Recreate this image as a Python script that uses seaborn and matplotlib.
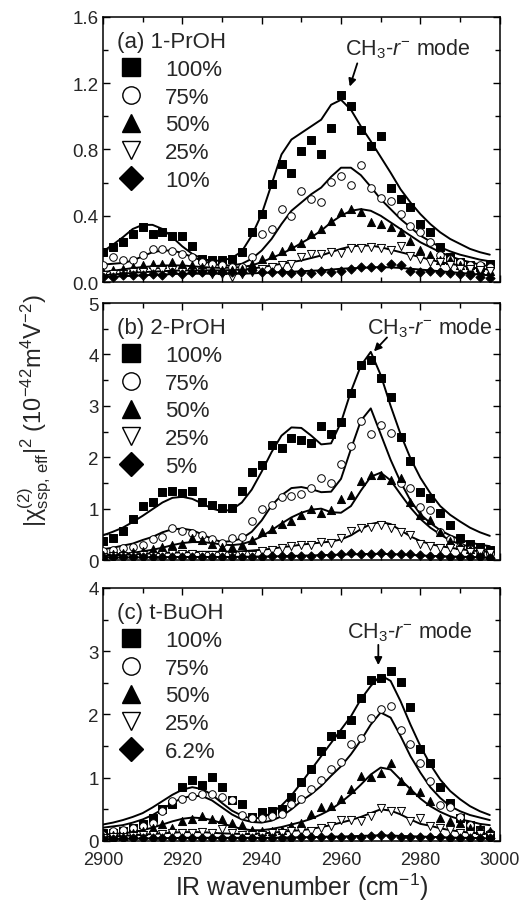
import numpy as np
import pandas as pd
import matplotlib
matplotlib.use('Agg')
import matplotlib.pyplot as plt
from matplotlib.lines import Line2D
from matplotlib.ticker import MultipleLocator, FormatStrFormatter
import seaborn as sns

sns.set_style("ticks")
plt.rcParams['font.family'] = ['Liberation Sans', 'DejaVu Sans']
plt.rcParams['mathtext.fontset'] = 'custom'
plt.rcParams['mathtext.rm'] = 'Liberation Sans'
plt.rcParams['mathtext.it'] = 'Liberation Sans:italic'
plt.rcParams['mathtext.bf'] = 'Liberation Sans:bold'
plt.rcParams['xtick.direction'] = 'in'
plt.rcParams['ytick.direction'] = 'in'
plt.rcParams['xtick.top'] = True
plt.rcParams['ytick.right'] = True

# ====================== DATA ======================
wn = [2900.0, 2902.5, 2905.0, 2907.5, 2910.0, 2912.5, 2915.0, 2917.5, 2920.0, 2922.5,
      2925.0, 2927.5, 2930.0, 2932.5, 2935.0, 2937.5, 2940.0, 2942.5, 2945.0, 2947.5,
      2950.0, 2952.5, 2955.0, 2957.5, 2960.0, 2962.5, 2965.0, 2967.5, 2970.0, 2972.5,
      2975.0, 2977.5, 2980.0, 2982.5, 2985.0, 2987.5, 2990.0, 2992.5, 2995.0, 2997.5]

# (a) 1-PrOH
a_100 = [0.18, 0.21, 0.24, 0.29, 0.33, 0.29, 0.30, 0.28, 0.28, 0.22, 0.14, 0.13, 0.13, 0.14, 0.18, 0.30, 0.41, 0.59, 0.71, 0.66,
         0.79, 0.86, 0.77, 0.93, 1.13, 1.06, 0.92, 0.82, 0.88, 0.57, 0.50, 0.45, 0.35, 0.30, 0.21, 0.15, 0.12, 0.10, 0.09, 0.11]
a_100_fit = [0.185, 0.225, 0.27, 0.32, 0.345, 0.345, 0.32, 0.27, 0.215, 0.17, 0.14, 0.127, 0.13, 0.145, 0.185, 0.28, 0.41, 0.59, 0.77, 0.86,
             0.90, 0.94, 0.98, 1.07, 1.10, 1.04, 0.94, 0.85, 0.755, 0.66, 0.56, 0.48, 0.41, 0.35, 0.30, 0.26, 0.23, 0.20, 0.18, 0.165]
a_75 = [0.10, 0.15, 0.13, 0.13, 0.16, 0.20, 0.20, 0.19, 0.17, 0.15, 0.12, 0.11, 0.10, 0.09, 0.09, 0.15, 0.29, 0.32, 0.44, 0.40,
        0.55, 0.50, 0.48, 0.605, 0.64, 0.585, 0.705, 0.57, 0.51, 0.49, 0.41, 0.34, 0.30, 0.24, 0.16, 0.14, 0.12, 0.10, 0.10, 0.09]
a_75_fit = [0.105, 0.11, 0.115, 0.13, 0.155, 0.18, 0.19, 0.19, 0.175, 0.15, 0.13, 0.11, 0.10, 0.10, 0.11, 0.14, 0.19, 0.26, 0.35, 0.43,
            0.48, 0.53, 0.57, 0.635, 0.69, 0.69, 0.645, 0.575, 0.50, 0.44, 0.38, 0.33, 0.28, 0.245, 0.21, 0.185, 0.165, 0.15, 0.135, 0.125]
a_50 = [0.06, 0.07, 0.08, 0.09, 0.10, 0.11, 0.11, 0.12, 0.11, 0.10, 0.09, 0.08, 0.07, 0.07, 0.08, 0.11, 0.14, 0.16, 0.19, 0.22,
        0.235, 0.29, 0.32, 0.37, 0.42, 0.44, 0.42, 0.365, 0.35, 0.33, 0.30, 0.25, 0.195, 0.165, 0.135, 0.13, 0.10, 0.08, 0.07, 0.065]
a_50_fit = [0.06, 0.068, 0.076, 0.084, 0.09, 0.095, 0.10, 0.10, 0.10, 0.095, 0.09, 0.087, 0.085, 0.087, 0.09, 0.10, 0.12, 0.145, 0.17, 0.20,
            0.235, 0.27, 0.31, 0.36, 0.40, 0.43, 0.44, 0.43, 0.40, 0.36, 0.32, 0.28, 0.24, 0.21, 0.18, 0.155, 0.135, 0.12, 0.105, 0.095]
a_25 = [0.04, 0.05, 0.05, 0.06, 0.06, 0.07, 0.07, 0.07, 0.06, 0.06, 0.06, 0.05, 0.05, 0.03, 0.05, 0.06, 0.08, 0.09, 0.10, 0.11,
        0.15, 0.17, 0.17, 0.18, 0.175, 0.205, 0.205, 0.21, 0.205, 0.195, 0.215, 0.155, 0.14, 0.12, 0.12, 0.10, 0.08, 0.08, 0.07, 0.065]
a_25_fit = [0.04, 0.045, 0.05, 0.055, 0.06, 0.062, 0.065, 0.068, 0.07, 0.07, 0.07, 0.07, 0.07, 0.072, 0.075, 0.08, 0.09, 0.10, 0.11, 0.12,
            0.13, 0.145, 0.16, 0.18, 0.20, 0.215, 0.22, 0.22, 0.21, 0.195, 0.18, 0.165, 0.15, 0.135, 0.12, 0.11, 0.10, 0.09, 0.08, 0.075]
a_10 = [0.03, 0.03, 0.04, 0.04, 0.04, 0.05, 0.04, 0.06, 0.05, 0.06, 0.06, 0.06, 0.06, 0.06, 0.06, 0.07, 0.06, 0.06, 0.06, 0.055,
        0.06, 0.057, 0.065, 0.06, 0.065, 0.08, 0.09, 0.09, 0.09, 0.11, 0.10, 0.065, 0.06, 0.065, 0.06, 0.057, 0.05, 0.04, 0.03, 0.025]
a_10_fit = [0.03, 0.032, 0.035, 0.038, 0.04, 0.043, 0.045, 0.048, 0.05, 0.05, 0.05, 0.05, 0.05, 0.05, 0.05, 0.052, 0.055, 0.057, 0.06, 0.062,
            0.065, 0.068, 0.07, 0.075, 0.08, 0.083, 0.085, 0.088, 0.09, 0.088, 0.085, 0.08, 0.075, 0.07, 0.065, 0.06, 0.055, 0.05, 0.045, 0.04]

# (b) 2-PrOH
b_100 = [0.37, 0.42, 0.56, 0.79, 1.05, 1.13, 1.32, 1.34, 1.31, 1.34, 1.12, 1.08, 1.02, 1.01, 1.35, 1.72, 1.84, 2.23, 2.17, 2.37,
         2.34, 2.27, 2.60, 2.46, 2.68, 3.25, 3.80, 3.90, 3.54, 3.17, 2.40, 1.92, 1.32, 1.20, 0.92, 0.68, 0.43, 0.32, 0.26, 0.20]
b_100_fit = [0.48, 0.55, 0.63, 0.74, 0.86, 0.99, 1.12, 1.21, 1.23, 1.19, 1.10, 1.00, 0.95, 0.98, 1.12, 1.37, 1.72, 2.10, 2.42, 2.58,
             2.57, 2.42, 2.25, 2.27, 2.68, 3.28, 3.78, 4.05, 3.60, 3.00, 2.45, 1.98, 1.60, 1.30, 1.05, 0.88, 0.75, 0.63, 0.54, 0.47]
b_75 = [0.18, 0.20, 0.23, 0.26, 0.29, 0.40, 0.45, 0.63, 0.57, 0.52, 0.48, 0.40, 0.33, 0.42, 0.45, 0.75, 1.00, 1.07, 1.22, 1.25,
        1.28, 1.40, 1.59, 1.50, 1.87, 2.21, 2.71, 2.46, 2.63, 2.48, 1.50, 1.40, 1.03, 0.97, 0.55, 0.40, 0.28, 0.22, 0.16, 0.12]
b_75_fit = [0.21, 0.24, 0.28, 0.32, 0.39, 0.45, 0.54, 0.60, 0.61, 0.58, 0.50, 0.41, 0.35, 0.37, 0.42, 0.55, 0.77, 1.06, 1.26, 1.40,
            1.42, 1.38, 1.32, 1.33, 1.58, 2.16, 2.71, 2.95, 2.45, 1.95, 1.52, 1.16, 0.89, 0.72, 0.58, 0.48, 0.40, 0.34, 0.30, 0.27]
b_50 = [0.10, 0.11, 0.13, 0.15, 0.17, 0.21, 0.26, 0.29, 0.32, 0.42, 0.39, 0.32, 0.26, 0.26, 0.29, 0.39, 0.54, 0.60, 0.71, 0.75,
        0.87, 1.00, 0.92, 0.97, 1.18, 1.27, 1.53, 1.66, 1.66, 1.55, 1.59, 1.12, 0.88, 0.78, 0.55, 0.38, 0.30, 0.22, 0.17, 0.12]
b_50_fit = [0.10, 0.11, 0.12, 0.14, 0.17, 0.20, 0.24, 0.29, 0.33, 0.35, 0.35, 0.33, 0.30, 0.29, 0.31, 0.37, 0.46, 0.58, 0.71, 0.83,
            0.92, 0.98, 1.00, 0.93, 0.92, 1.05, 1.35, 1.62, 1.70, 1.55, 1.28, 1.02, 0.80, 0.63, 0.50, 0.38, 0.31, 0.26, 0.22, 0.19]
b_25 = [0.05, 0.07, 0.08, 0.08, 0.10, 0.08, 0.10, 0.12, 0.11, 0.12, 0.10, 0.10, 0.10, 0.08, 0.09, 0.10, 0.17, 0.20, 0.23, 0.28,
        0.30, 0.29, 0.35, 0.34, 0.42, 0.56, 0.63, 0.65, 0.68, 0.63, 0.54, 0.48, 0.32, 0.28, 0.24, 0.23, 0.19, 0.16, 0.15, 0.13]
b_25_fit = [0.08, 0.09, 0.10, 0.11, 0.12, 0.13, 0.14, 0.145, 0.15, 0.155, 0.16, 0.16, 0.16, 0.165, 0.17, 0.185, 0.20, 0.22, 0.25, 0.27,
            0.30, 0.32, 0.34, 0.36, 0.40, 0.48, 0.60, 0.70, 0.74, 0.70, 0.58, 0.46, 0.37, 0.31, 0.27, 0.24, 0.21, 0.19, 0.17, 0.16]
b_5 = [0.05, 0.05, 0.05, 0.05, 0.05, 0.06, 0.05, 0.06, 0.06, 0.06, 0.06, 0.05, 0.06, 0.06, 0.06, 0.06, 0.06, 0.07, 0.07, 0.08,
       0.08, 0.08, 0.09, 0.10, 0.11, 0.13, 0.11, 0.11, 0.13, 0.11, 0.11, 0.11, 0.10, 0.08, 0.07, 0.06, 0.06, 0.05, 0.05, 0.04]
b_5_fit = [0.05, 0.05, 0.05, 0.05, 0.055, 0.055, 0.055, 0.06, 0.06, 0.06, 0.06, 0.06, 0.06, 0.06, 0.065, 0.065, 0.07, 0.07, 0.075, 0.08,
           0.085, 0.09, 0.095, 0.10, 0.105, 0.11, 0.115, 0.12, 0.12, 0.115, 0.11, 0.10, 0.09, 0.08, 0.075, 0.07, 0.065, 0.06, 0.055, 0.05]

# (c) t-BuOH
c_100 = [0.12, 0.12, 0.16, 0.20, 0.27, 0.36, 0.50, 0.59, 0.85, 0.96, 0.89, 1.01, 0.86, 0.64, 0.59, 0.38, 0.45, 0.48, 0.50, 0.69,
         0.93, 1.13, 1.43, 1.66, 1.69, 1.91, 2.26, 2.54, 2.57, 2.69, 2.52, 2.12, 1.46, 1.24, 0.85, 0.60, 0.37, 0.26, 0.18, 0.10]
c_100_fit = [0.26, 0.29, 0.33, 0.38, 0.44, 0.53, 0.63, 0.73, 0.81, 0.85, 0.82, 0.73, 0.60, 0.48, 0.40, 0.35, 0.37, 0.44, 0.56, 0.72,
             0.92, 1.13, 1.34, 1.55, 1.76, 1.97, 2.24, 2.45, 2.62, 2.53, 2.21, 1.84, 1.50, 1.21, 0.97, 0.79, 0.66, 0.55, 0.47, 0.41]
c_75 = [0.10, 0.16, 0.18, 0.21, 0.24, 0.29, 0.47, 0.63, 0.67, 0.71, 0.75, 0.74, 0.69, 0.64, 0.41, 0.37, 0.37, 0.39, 0.42, 0.58,
        0.67, 0.82, 0.97, 1.14, 1.25, 1.54, 1.63, 1.94, 2.09, 2.13, 1.76, 1.54, 1.24, 0.95, 0.57, 0.53, 0.38, 0.25, 0.18, 0.12]
c_75_fit = [0.21, 0.23, 0.25, 0.29, 0.34, 0.41, 0.50, 0.60, 0.68, 0.71, 0.71, 0.64, 0.53, 0.42, 0.34, 0.30, 0.29, 0.32, 0.39, 0.50,
            0.63, 0.74, 0.87, 1.03, 1.18, 1.37, 1.59, 1.84, 2.03, 1.95, 1.66, 1.34, 1.08, 0.85, 0.68, 0.55, 0.47, 0.41, 0.37, 0.33]
c_50 = [0.08, 0.10, 0.08, 0.12, 0.16, 0.20, 0.27, 0.21, 0.31, 0.34, 0.39, 0.34, 0.34, 0.29, 0.26, 0.18, 0.16, 0.16, 0.18, 0.24,
        0.29, 0.42, 0.53, 0.55, 0.67, 0.82, 1.03, 1.01, 1.08, 1.24, 0.95, 0.80, 0.78, 0.63, 0.37, 0.32, 0.29, 0.21, 0.20, 0.16]
c_50_fit = [0.10, 0.11, 0.12, 0.14, 0.17, 0.21, 0.26, 0.31, 0.35, 0.37, 0.36, 0.33, 0.28, 0.23, 0.19, 0.17, 0.17, 0.19, 0.22, 0.26,
            0.30, 0.35, 0.42, 0.50, 0.61, 0.74, 0.89, 1.05, 1.16, 1.13, 0.97, 0.82, 0.67, 0.55, 0.46, 0.39, 0.34, 0.31, 0.27, 0.25]
c_25 = [0.05, 0.06, 0.07, 0.08, 0.09, 0.10, 0.11, 0.12, 0.13, 0.13, 0.14, 0.13, 0.19, 0.12, 0.10, 0.09, 0.10, 0.12, 0.13, 0.15,
        0.16, 0.16, 0.21, 0.24, 0.33, 0.33, 0.32, 0.39, 0.52, 0.48, 0.47, 0.32, 0.36, 0.24, 0.21, 0.18, 0.13, 0.11, 0.11, 0.08]
c_25_fit = [0.06, 0.07, 0.08, 0.09, 0.10, 0.11, 0.12, 0.13, 0.14, 0.14, 0.14, 0.13, 0.12, 0.115, 0.11, 0.11, 0.12, 0.13, 0.145, 0.16,
            0.17, 0.19, 0.22, 0.25, 0.29, 0.33, 0.38, 0.44, 0.50, 0.48, 0.42, 0.34, 0.27, 0.24, 0.20, 0.17, 0.15, 0.13, 0.12, 0.11]
c_6 = [0.03, 0.03, 0.04, 0.04, 0.04, 0.04, 0.05, 0.05, 0.05, 0.05, 0.05, 0.05, 0.05, 0.05, 0.05, 0.05, 0.05, 0.05, 0.05, 0.05,
       0.06, 0.06, 0.06, 0.06, 0.06, 0.07, 0.07, 0.08, 0.10, 0.08, 0.07, 0.07, 0.07, 0.06, 0.06, 0.05, 0.05, 0.05, 0.04, 0.04]
c_6_fit = [0.03, 0.03, 0.035, 0.035, 0.04, 0.04, 0.045, 0.045, 0.05, 0.05, 0.05, 0.05, 0.05, 0.05, 0.05, 0.05, 0.05, 0.05, 0.055, 0.055,
           0.06, 0.06, 0.065, 0.07, 0.07, 0.075, 0.08, 0.085, 0.09, 0.085, 0.08, 0.075, 0.07, 0.065, 0.06, 0.055, 0.05, 0.05, 0.045, 0.04]

# ====================== PANEL SETUP ======================
markers = ['s', 'o', '^', 'v', 'D']
filled = [True, False, True, False, True]
sizes = [26, 30, 34, 34, 22]

panels = [
    dict(title='(a) 1-PrOH', labels=['100%', '75%', '50%', '25%', '10%'],
         data=[a_100, a_75, a_50, a_25, a_10], fits=[a_100_fit, a_75_fit, a_50_fit, a_25_fit, a_10_fit],
         ylim=1.6, major=0.4, minor=0.2, fmt='%.1f',
         txt=(2961, 1.41), tail=(2964.1, 1.32), head=(2962.2, 1.18)),
    dict(title='(b) 2-PrOH', labels=['100%', '75%', '50%', '25%', '5%'],
         data=[b_100, b_75, b_50, b_25, b_5], fits=[b_100_fit, b_75_fit, b_50_fit, b_25_fit, b_5_fit],
         ylim=5, major=1, minor=0.5, fmt='%d',
         txt=(2966.5, 4.53), tail=(2971.6, 4.33), head=(2968.3, 4.06)),
    dict(title='(c) t-BuOH', labels=['100%', '75%', '50%', '25%', '6.2%'],
         data=[c_100, c_75, c_50, c_25, c_6], fits=[c_100_fit, c_75_fit, c_50_fit, c_25_fit, c_6_fit],
         ylim=4, major=1, minor=0.5, fmt='%d',
         txt=(2961.5, 3.32), tail=(2969.4, 3.10), head=(2969.4, 2.78)),
]

fig = plt.figure(figsize=(5.2, 9.03), dpi=100)
boxes = [[0.198, 0.6866, 0.763, 0.2935],
         [0.198, 0.3787, 0.763, 0.2846],
         [0.198, 0.0676, 0.763, 0.2802]]

for k, (p, box) in enumerate(zip(panels, boxes)):
    ax = fig.add_axes(box)
    for vals, fit, m, f, s in zip(p['data'], p['fits'], markers, filled, sizes):
        sns.lineplot(x=wn, y=fit, ax=ax, color='black', linewidth=1.4,
                     estimator=None, sort=False, legend=False, zorder=2)
        sns.scatterplot(x=wn, y=vals, ax=ax, marker=m, s=s,
                        color='black' if f else 'white', edgecolor='black',
                        linewidth=0.7, legend=False, zorder=3)

    ax.set_xlim(2900, 3000)
    ax.set_ylim(0, p['ylim'])
    ax.xaxis.set_major_locator(MultipleLocator(20))
    ax.xaxis.set_minor_locator(MultipleLocator(10))
    ax.yaxis.set_major_locator(MultipleLocator(p['major']))
    ax.yaxis.set_minor_locator(MultipleLocator(p['minor']))
    ax.yaxis.set_major_formatter(FormatStrFormatter(p['fmt']))
    ax.tick_params(which='both', direction='in', top=True, right=True,
                   labelsize=13.5, width=1.0, color='black')
    ax.tick_params(axis='x', pad=7.5, labelsize=13)
    ax.tick_params(axis='y', pad=3)
    ax.tick_params(which='major', length=5)
    ax.tick_params(which='minor', length=3.5)
    for sp in ax.spines.values():
        sp.set_linewidth(1.1)
        sp.set_color('black')
    ax.set_xlabel('')
    ax.set_ylabel('')
    if k < 2:
        ax.tick_params(labelbottom=False)

    handles = [Line2D([], [], marker=m, linestyle='None', markersize=12.5,
                      markerfacecolor='black' if f else 'white',
                      markeredgecolor='black', markeredgewidth=1.0)
               for m, f in zip(markers, filled)]
    leg = ax.legend(handles, p['labels'], title=p['title'], loc='upper left',
                    frameon=False, fontsize=16, title_fontsize=16,
                    handlelength=1.2, handletextpad=0.95, labelspacing=0.3,
                    borderaxespad=0.35, borderpad=0.3, alignment='left')

    ax.text(p['txt'][0], p['txt'][1], 'CH$_3$-$r^{-}$ mode', fontsize=15.5,
            ha='left', va='center')
    ax.annotate('', xy=p['head'], xytext=p['tail'],
                arrowprops=dict(arrowstyle='-|>', color='black', lw=1.3,
                                mutation_scale=11, shrinkA=0, shrinkB=0))

fig.text(0.58, 0.0175, 'IR wavenumber (cm$^{-1}$)', ha='center', va='center', fontsize=18)
fig.text(0.067, 0.545, '|χ$^{(2)}_{\\mathrm{ssp,\\,eff}}$|$^{2}$ (10$^{-42}$m$^{4}$V$^{-2}$)',
         rotation=90, ha='center', va='center', fontsize=17)

plt.savefig('out.png', dpi=100)
